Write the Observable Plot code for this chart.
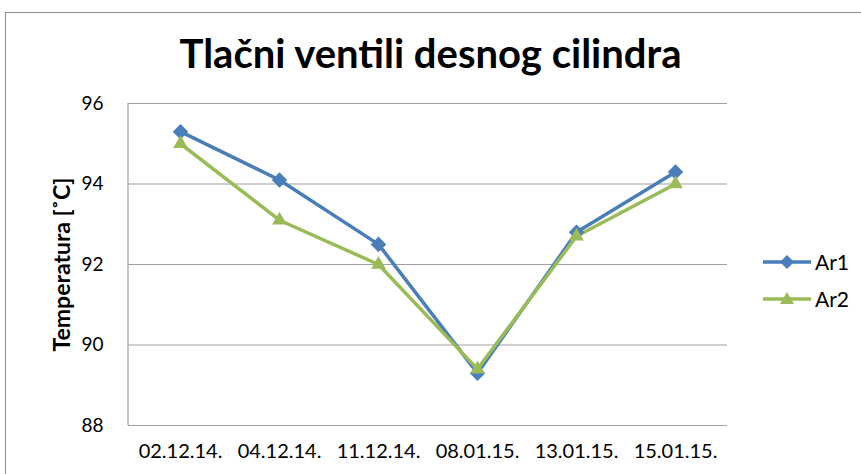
<!DOCTYPE html>
<html><head><meta charset="utf-8">
<script src="https://cdn.jsdelivr.net/npm/d3@7"></script>
<script src="https://cdn.jsdelivr.net/npm/@observablehq/plot@0.6"></script>
<style>
body{margin:0;background:#fff;font-family:Lato,"Open Sans",sans-serif;}
#wrap{position:relative;width:861px;height:474px;overflow:hidden;}
#frame{position:absolute;left:5px;top:12px;width:900px;height:500px;border:1.5px solid #8c8c8c;box-sizing:border-box;}
#title{position:absolute;left:0;top:29px;width:861px;text-align:center;font-size:40px;line-height:48px;font-weight:bold;color:#000;}
#chart{position:absolute;left:0;top:88px;}
#legend{position:absolute;left:762px;top:243px;font-size:21px;color:#000;}
.li{display:flex;align-items:center;height:37px;}
.li svg{margin-right:3px;}
</style></head>
<body>
<div id="wrap">
<div id="frame"></div>
<div id="title">Tlačni ventili desnog cilindra</div>
<div id="chart"></div>
<div id="legend"></div>
</div>
<script>
const dates = ["02.12.14.","04.12.14.","11.12.14.","08.01.15.","13.01.15.","15.01.15."];
const ar1 = [95.3, 94.1, 92.5, 89.3, 92.8, 94.3];
const ar2 = [95.0, 93.1, 92.0, 89.4, 92.7, 94.0];
const yTicks = [88, 90, 92, 94, 96];
const seriesNames = ["Ar1", "Ar2"];
const colors = ["#4a7ebb", "#9bbb59"];
const symbols = ["diamond2", "triangle2"];

const data = [];
[ar1, ar2].forEach((vals, s) => vals.forEach((v, i) => data.push({date: dates[i], value: v, series: seriesNames[s]})));

const plot = Plot.plot({
  width: 861,
  height: 386,
  marginTop: 15,
  marginBottom: 49,
  marginLeft: 128,
  marginRight: 134,
  style: {fontFamily: "Lato, 'Open Sans', sans-serif", fontSize: "18px", color: "#000", background: "transparent"},
  x: {type: "point", domain: dates, padding: 0.5, label: null},
  y: {domain: [88, 96], ticks: yTicks, label: "Temperatura [˚C]"},
  color: {domain: seriesNames, range: colors},
  symbol: {domain: seriesNames, range: symbols},
  marks: [
    Plot.gridY(yTicks.filter(t => t > 88), {stroke: "#a0a0a0", strokeOpacity: 1, strokeWidth: 1.2}),
    Plot.ruleY([88], {stroke: "#a0a0a0", strokeWidth: 1.2}),
    Plot.axisY({ticks: yTicks, tickSize: 0, tickPadding: 25, label: "Temperatura [˚C]", labelAnchor: "center", labelArrow: "none", labelOffset: 75, fontSize: 19}),
    Plot.axisX({tickSize: 0, tickPadding: 18, fontSize: 20, label: null}),
    Plot.line(data, {x: "date", y: "value", z: "series", stroke: "series", strokeWidth: 3.5}),
    Plot.dot(data, {x: "date", y: "value", fill: "series", symbol: "series", r: 7, stroke: "none"})
  ]
});
const svg = d3.select(plot);
document.getElementById("chart").appendChild(plot);
// left axis line
svg.append("line").attr("x1",128).attr("x2",128).attr("y1",15).attr("y2",337).attr("stroke","#a0a0a0").attr("stroke-width",1.2);
// y-axis label styling
svg.select('g[aria-label="y-axis label"]').attr("font-size", 23).attr("font-weight", "bold");
svg.selectAll('g[aria-label="y-axis label"] text').style("font-size","23px").style("font-weight","bold");

const legend = document.getElementById("legend");
seriesNames.forEach((name, i) => {
  const d = document.createElement("div");
  d.className = "li";
  const shape = i === 0
    ? `<path d="M25,3 L32,10 L25,17 L18,10 Z" fill="${colors[i]}"/>`
    : `<path d="M25,3 L32,15 L18,15 Z" fill="${colors[i]}"/>`;
  d.innerHTML = `<svg width="50" height="20"><line x1="1" x2="49" y1="10" y2="10" stroke="${colors[i]}" stroke-width="3.5"/>${shape}</svg><span>${name}</span>`;
  legend.appendChild(d);
});
</script>
</body></html>
